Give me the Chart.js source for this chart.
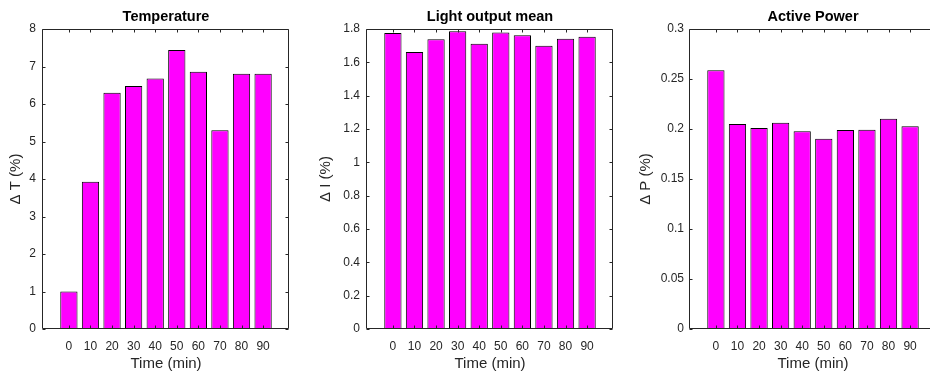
<!DOCTYPE html>
<html>
<head>
<meta charset="utf-8">
<script src="https://cdn.jsdelivr.net/npm/chart.js@4.4.0/dist/chart.umd.min.js"></script>
<style>
  html, body { margin:0; padding:0; background:#fff; width:930px; height:374px; overflow:hidden; }
  canvas { position:absolute; top:0; }
</style>
</head>
<body>
<canvas id="c1" width="310" height="374" style="left:0px"></canvas>
<canvas id="c2" width="310" height="374" style="left:310px"></canvas>
<canvas id="c3" width="320" height="374" style="left:620px"></canvas>
<script>
// ---- data ----
const categories = [0, 10, 20, 30, 40, 50, 60, 70, 80, 90];
const xTickLabels = ['0', '10', '20', '30', '40', '50', '60', '70', '80', '90'];

const tempValues  = [1.00, 3.93, 6.30, 6.48, 6.68, 7.44, 6.86, 5.30, 6.81, 6.81];
const lightValues = [1.776, 1.662, 1.738, 1.787, 1.711, 1.779, 1.762, 1.699, 1.742, 1.753];
const powerValues = [0.2587, 0.2050, 0.2010, 0.2063, 0.1977, 0.1903, 0.1990, 0.1993, 0.2103, 0.2027];

const tempTicks  = [0, 1, 2, 3, 4, 5, 6, 7, 8];
const lightTicks = [0, 0.2, 0.4, 0.6, 0.8, 1, 1.2, 1.4, 1.6, 1.8];
const powerTicks = [0, 0.05, 0.1, 0.15, 0.2, 0.25, 0.3];

const titles  = ['Temperature', 'Light output mean', 'Active Power'];
const yLabels = ['\u0394 T (%)', '\u0394 I (%)', '\u0394 P (%)'];
const xLabel  = 'Time (min)';

// ---- styling ----
const FONT = "'Liberation Sans', Arial, Helvetica, sans-serif";
const AXIS_COLOR = '#262626';

const boxPlugin = {
  id: 'matlabBox',
  afterDatasetsDraw(chart) {
    const {ctx, chartArea, scales} = chart;
    const L = Math.floor(chartArea.left) - 0.5;
    const R = Math.floor(chartArea.right) - 0.5;
    const T = Math.floor(chartArea.top) + 0.5;
    const B = Math.floor(chartArea.bottom) - 0.5;
    const tl = 3;
    ctx.save();
    ctx.strokeStyle = AXIS_COLOR;
    ctx.lineWidth = 1;
    ctx.beginPath();
    ctx.rect(L, T, R - L, B - T);
    scales.x.ticks.forEach(t => {
      const px = Math.round(scales.x.getPixelForValue(t.value)) + 0.5;
      ctx.moveTo(px, B); ctx.lineTo(px, B - tl);
      ctx.moveTo(px, T); ctx.lineTo(px, T + tl);
    });
    scales.y.ticks.forEach(t => {
      const py = Math.round(scales.y.getPixelForValue(t.value)) + 0.5;
      ctx.moveTo(L, py); ctx.lineTo(L + tl, py);
      ctx.moveTo(R, py); ctx.lineTo(R - tl, py);
    });
    ctx.stroke();
    ctx.restore();
  }
};

function makeChart(id, title, yLabel, values, yTicks, leftWidth, rightPad, yTitlePad, yTickPad) {
  return new Chart(document.getElementById(id), {
    type: 'bar',
    data: {
      datasets: [{
        data: categories.map((c, i) => ({x: c, y: values[i]})),
        backgroundColor: '#FF00FF',
        borderColor: '#000000',
        borderWidth: 1,
        borderSkipped: false,
        barPercentage: 0.8,
        categoryPercentage: 1.0
      }]
    },
    options: {
      responsive: false,
      animation: false,
      devicePixelRatio: 1,
      layout: { padding: { left: 0, right: rightPad, top: 0, bottom: 0 } },
      plugins: {
        legend: { display: false },
        tooltip: { enabled: false },
        title: {
          display: true, text: title, fullSize: false, color: '#000',
          font: { family: FONT, size: 14.5, weight: 'bold' },
          padding: { top: 8.3, bottom: 3.3 }
        }
      },
      scales: {
        x: {
          type: 'linear', min: -12, max: 102, offset: false,
          grid: { display: false, drawTicks: false },
          border: { display: false },
          afterBuildTicks: a => { a.ticks = categories.map(v => ({value: v})); },
          ticks: {
            padding: 10, color: AXIS_COLOR, autoSkip: false, maxRotation: 0,
            font: { family: FONT, size: 12 },
            callback: v => xTickLabels[categories.indexOf(v)]
          },
          title: {
            display: true, text: xLabel, color: AXIS_COLOR,
            font: { family: FONT, size: 15 },
            padding: { top: 0, bottom: 1 }
          },
          afterFit: a => { a.height = 45; }
        },
        y: {
          type: 'linear', min: yTicks[0], max: yTicks[yTicks.length - 1],
          grid: { display: false, drawTicks: false },
          border: { display: false },
          afterBuildTicks: a => { a.ticks = yTicks.map(v => ({value: v})); },
          ticks: {
            padding: yTickPad, color: AXIS_COLOR,
            font: { family: FONT, size: 12 },
            callback: v => String(v)
          },
          title: {
            display: true, text: yLabel, color: AXIS_COLOR,
            font: { family: FONT, size: 15 },
            padding: { top: yTitlePad, bottom: 0 }
          },
          afterFit: a => { a.width = leftWidth; }
        }
      }
    },
    plugins: [boxPlugin]
  });
}

makeChart('c1', titles[0], yLabels[0], tempValues,  tempTicks,  43, 310 - 289, 7, 7);
makeChart('c2', titles[1], yLabels[1], lightValues, lightTicks, 57, 310 - 303, 7.3, 7);
makeChart('c3', titles[2], yLabels[2], powerValues, powerTicks, 70, 320 - 316, 16.5, 6);
</script>
</body>
</html>
